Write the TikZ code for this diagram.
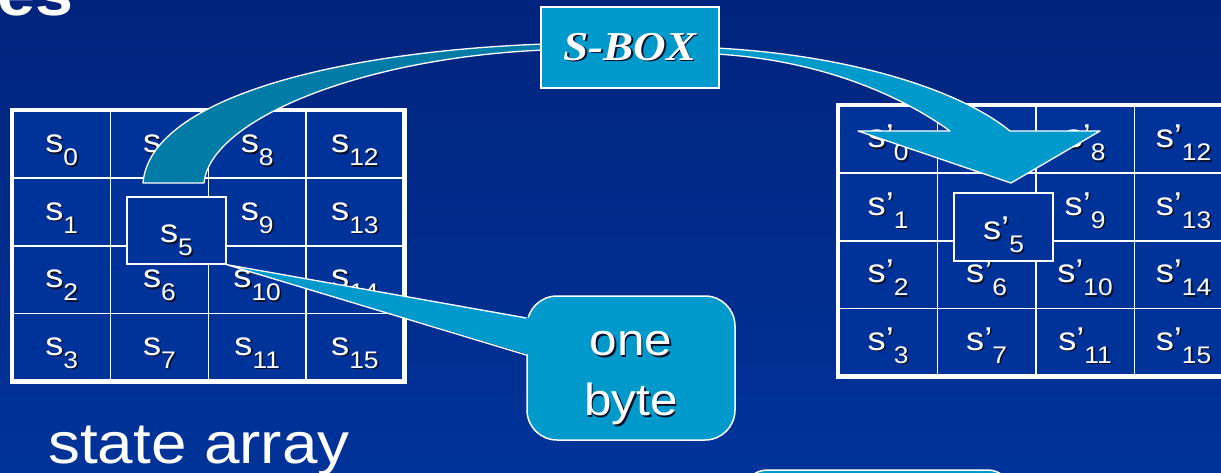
\documentclass[tikz,border=0pt]{standalone}
\usepackage{fontspec}
\setmainfont{Liberation Sans}[FakeStretch=1.1]
\newfontfamily\boxserif{Liberation Serif}[FakeStretch=1.1]
\usetikzlibrary{calc}

\definecolor{bgtop}{RGB}{0,36,125}
\definecolor{bgbot}{RGB}{0,51,153}
\definecolor{cellblue}{RGB}{0,51,153}
\definecolor{boxcyan}{RGB}{0,153,204}
\definecolor{bandteal}{RGB}{0,124,166}
\definecolor{txtshadow}{RGB}{10,15,40}

% white text with a small dark drop shadow
\newcommand\shadowed[1]{\rlap{\kern1.6pt\raisebox{-1.6pt}{\color{txtshadow}#1}}#1}
% state byte s_i and transformed byte s'_i
\newcommand\subsz{\fontsize{24}{24}\selectfont}
\newcommand\sv[1]{\shadowed{s}\raisebox{-13pt}{\subsz\shadowed{#1}}}
\newcommand\spv[1]{\shadowed{s’}\raisebox{-13pt}{\subsz\shadowed{#1}}}

\pgfdeclarelayer{front}
\pgfsetlayers{main,front}

\begin{document}
\begin{tikzpicture}[x=1pt,y=-1pt,
  cell/.style={fill=cellblue, draw=white, line width=1.6pt, inner sep=0pt,
    minimum width=#1, minimum height=67.5pt, anchor=north west,
    text height=42pt, text depth=25.5pt, text=white,
    font=\fontsize{33}{33}\selectfont},
  outer/.style={draw=white, line width=4.5pt},
  bytebox/.style={fill=cellblue, draw=white, line width=1.3pt, inner sep=0pt,
    minimum width=99pt, minimum height=67pt, text=white,
    font=\fontsize{33}{33}\selectfont},
  band/.style={draw=white, line width=1.3pt, line join=round},
  sboxstyle/.style={fill=boxcyan, draw=white, line width=1.5pt,
    minimum width=178pt, minimum height=81pt, text=white,
    font=\boxserif\bfseries\itshape\fontsize{41}{41}\selectfont},
  callout/.style={fill=boxcyan, draw=white, line width=1.5pt,
    rounded corners=30pt, minimum width=208pt, minimum height=144pt},
  calltxt/.style={text=white, align=center, inner sep=0pt,
    font=\fontsize{45}{60}\selectfont},
  bigtxt/.style={text=white, inner sep=0pt, anchor=base west}
]
\useasboundingbox (0,0) rectangle (1221,473);
\clip (0,0) rectangle (1221,473);
\shade[top color=bgtop, bottom color=bgbot] (0,0) rectangle (1221,473);

% heading fragment at the top edge
\node[bigtxt, font=\fontsize{62}{62}\selectfont\bfseries] (head) at (-3,16) {es};

% input state array
\foreach \c in {0,...,3}{
  \foreach \r in {0,...,3}{
    \pgfmathtruncatemacro\idx{4*\c+\r}
    \node[cell=97.75pt] (l\idx) at ({12+97.75*\c},{110+67.5*\r})
      {\ifnum\idx=5 \else\sv{\idx}\fi};
  }
}
\draw[outer] (l0.north west) rectangle (l15.south east);

% output state array
\foreach \c in {0,...,3}{
  \foreach \r in {0,...,3}{
    \pgfmathtruncatemacro\idx{4*\c+\r}
    \node[cell=98.5pt] (r\idx) at ({838+98.5*\c},{105+67.5*\r})
      {\ifnum\idx=5 \else\spv{\idx}\fi};
  }
}
\draw[outer] (r0.north west) rectangle (r15.south east);

% the byte being substituted
\node[bytebox, text height=46pt, text depth=21pt] (b5) at (176.5,230.5) {\sv{5}};
\node[bytebox, text height=47pt, text depth=21pt] (rb5) at (1003.5,227) {\spv{5}};

% S-box
\begin{pgfonlayer}{front}
\node[sboxstyle] (sbox) at (630,47.5) {\shadowed{S-BOX}};
\end{pgfonlayer}

% curved band from the input byte to the S-box
\coordinate (tailA) at (143,183);
\coordinate (tailB) at (204,183);
\filldraw[band, fill=bandteal]
  ($(sbox.west)+(4,-3.5)$) .. controls (330,52) and (150,100) .. (tailA)
  -- (tailB) .. controls (210,120) and (360,58) .. ($(sbox.west)+(4,2.5)$) -- cycle;

% curved arrow from the S-box to the output byte
\coordinate (tip) at (1011,183);
\filldraw[band, fill=boxcyan]
  ($(sbox.east)+(-4,0.5)$) .. controls (850,55) and (960,90) .. (1010,131)
  -- (1100,131) -- (tip) -- (858,131) -- (950,131)
  .. controls (900,95) and (820,60) .. ($(sbox.east)+(-4,6.5)$) -- cycle;

% callout naming the byte
\node[callout] (cb) at (631,368) {};
\node[calltxt] (cbt) at (631,379) {\shadowed{one}\\\shadowed{byte}};
\fill[boxcyan] (b5.south east) -- ($(cb.west)+(4,-50)$) -- ($(cb.west)+(4,-13)$) -- cycle;
\draw[white, line width=1.3pt] ($(cb.west)+(0,-50)$) -- (b5.south east) -- ($(cb.west)+(0,-13)$);

% caption
\node[bigtxt, font=\fontsize{58}{58}\selectfont] (caption) at (48,463) {state array};

% next box, cut off at the lower edge
\node[callout, minimum width=270pt, minimum height=60pt, rounded corners=25pt]
  (nextbox) at (877.5,500) {};
\end{tikzpicture}
\end{document}
